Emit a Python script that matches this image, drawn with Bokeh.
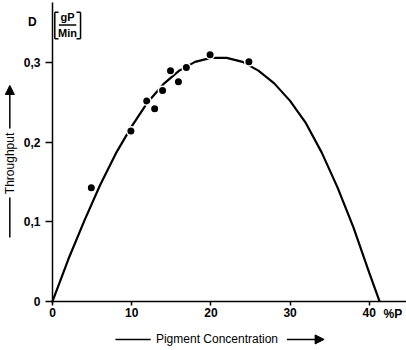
from math import pi

from bokeh.plotting import figure
from bokeh.models import Range1d, FixedTicker, Label, Arrow, NormalHead, LinearAxis
from bokeh.embed import file_html
from bokeh.resources import INLINE

# Measured throughput (g pigment per minute) against pigment concentration (%P)
conc_pts = [4.9, 9.9, 11.9, 12.9, 13.9, 14.9, 15.9, 16.9, 19.9, 24.8]
thru_pts = [0.143, 0.214, 0.252, 0.242, 0.265, 0.290, 0.276, 0.294, 0.310, 0.301]

# Fitted throughput curve
conc_fit = [0, 2, 4, 6, 8, 10, 12, 14, 16, 18, 20, 22, 24, 26, 28, 30,
            32, 34, 36, 38, 40, 41.3]
thru_fit = [0.0, 0.053, 0.101, 0.146, 0.186, 0.220, 0.250, 0.273, 0.290,
            0.301, 0.306, 0.306, 0.301, 0.290, 0.274, 0.252, 0.224, 0.187,
            0.143, 0.093, 0.036, 0.0]

x_ticks = [0, 10, 20, 30, 40]
y_ticks = [0, 0.1, 0.2, 0.3]
y_tick_labels = {0: "0", 0.1: "0,1", 0.2: "0,2", 0.3: "0,3"}

FONT = "Liberation Sans"

# The frame fills the whole page; the axes sit at the origin inside it so that
# the titles, arrows and unit labels around them can be placed in data units.
p = figure(width=406, height=350, output_backend="svg", toolbar_location=None,
           x_range=Range1d(-6.566, 44.7), y_range=Range1d(-0.0616, 0.3781),
           x_axis_location=None, y_axis_location=None,
           min_border=0)
p.outline_line_color = None
p.grid.visible = False
p.background_fill_color = "white"
p.border_fill_color = "white"

xaxis = LinearAxis(fixed_location=0, bounds=(0, 44.7),
                   ticker=FixedTicker(ticks=x_ticks))
yaxis = LinearAxis(fixed_location=0, bounds=(-0.003, 0.375),
                   ticker=FixedTicker(ticks=y_ticks))
yaxis.major_label_overrides = y_tick_labels

for ax in (xaxis, yaxis):
    ax.axis_line_width = 1.5
    ax.axis_line_color = "black"
    ax.major_tick_line_width = 1.5
    ax.major_tick_line_color = "black"
    ax.minor_tick_line_color = None
    ax.major_tick_in = 0
    ax.major_label_text_font = FONT
    ax.major_label_text_font_style = "bold"
    ax.major_label_text_font_size = "12px"
    ax.major_label_text_color = "black"

xaxis.major_tick_out = 4
xaxis.major_label_standoff = 3
yaxis.major_tick_out = 7
yaxis.major_label_standoff = 5
p.add_layout(xaxis, "below")
p.add_layout(yaxis, "left")

# curve and measurements
p.line(conc_fit, thru_fit, line_color="black", line_width=2.2)
p.scatter(conc_pts, thru_pts, size=8.5, fill_color="black",
          line_color="white", line_width=1.5)

# unit bracket [gP / Min] next to the D symbol
bx = [[0.29, 0.29], [0.29, 0.76], [0.29, 0.76], [3.54, 3.54], [3.03, 3.54],
      [3.03, 3.54], [0.8, 3.0]]
by = [[0.330, 0.3634], [0.3634, 0.3634], [0.330, 0.330], [0.330, 0.3634],
      [0.3634, 0.3634], [0.330, 0.330], [0.3474, 0.3474]]
p.multi_line(bx, by, line_color="black", line_width=1.5)


def text(x, y, s, size="12px", style="normal", align="center", angle=0):
    p.add_layout(Label(x=x, y=y, text=s, text_font=FONT, text_font_size=size,
                       text_font_style=style, text_align=align,
                       text_baseline="middle", angle=angle,
                       text_color="black"))


text(-2.56, 0.3509, "D", size="12px", style="bold")
text(1.9, 0.3568, "gP", size="11px", style="bold")
text(1.9, 0.3372, "Min", size="11px", style="bold")
text(41.8, -0.0163, "%P", size="12px", style="bold", align="left")

# axis titles with leader lines and arrows
text(20.77, -0.0477, "Pigment Concentration", size="12px")
p.add_layout(Arrow(x_start=7.95, x_end=12.4, y_start=-0.0477, y_end=-0.0477,
                   end=None, line_width=1.5, line_color="black"))
p.add_layout(Arrow(x_start=29.6, x_end=34.3, y_start=-0.0477, y_end=-0.0477,
                   end=NormalHead(size=9, fill_color="black", line_color="black"),
                   line_width=1.5, line_color="black"))

text(-5.39, 0.1734, "Throughput", size="12px", angle=pi / 2)
p.add_layout(Arrow(x_start=-5.39, x_end=-5.39, y_start=0.0804, y_end=0.1307,
                   end=None, line_width=1.5, line_color="black"))
p.add_layout(Arrow(x_start=-5.39, x_end=-5.39, y_start=0.2173, y_end=0.2714,
                   end=NormalHead(size=9, fill_color="black", line_color="black"),
                   line_width=1.5, line_color="black"))

open("out.html", "w").write(file_html(p, INLINE))
